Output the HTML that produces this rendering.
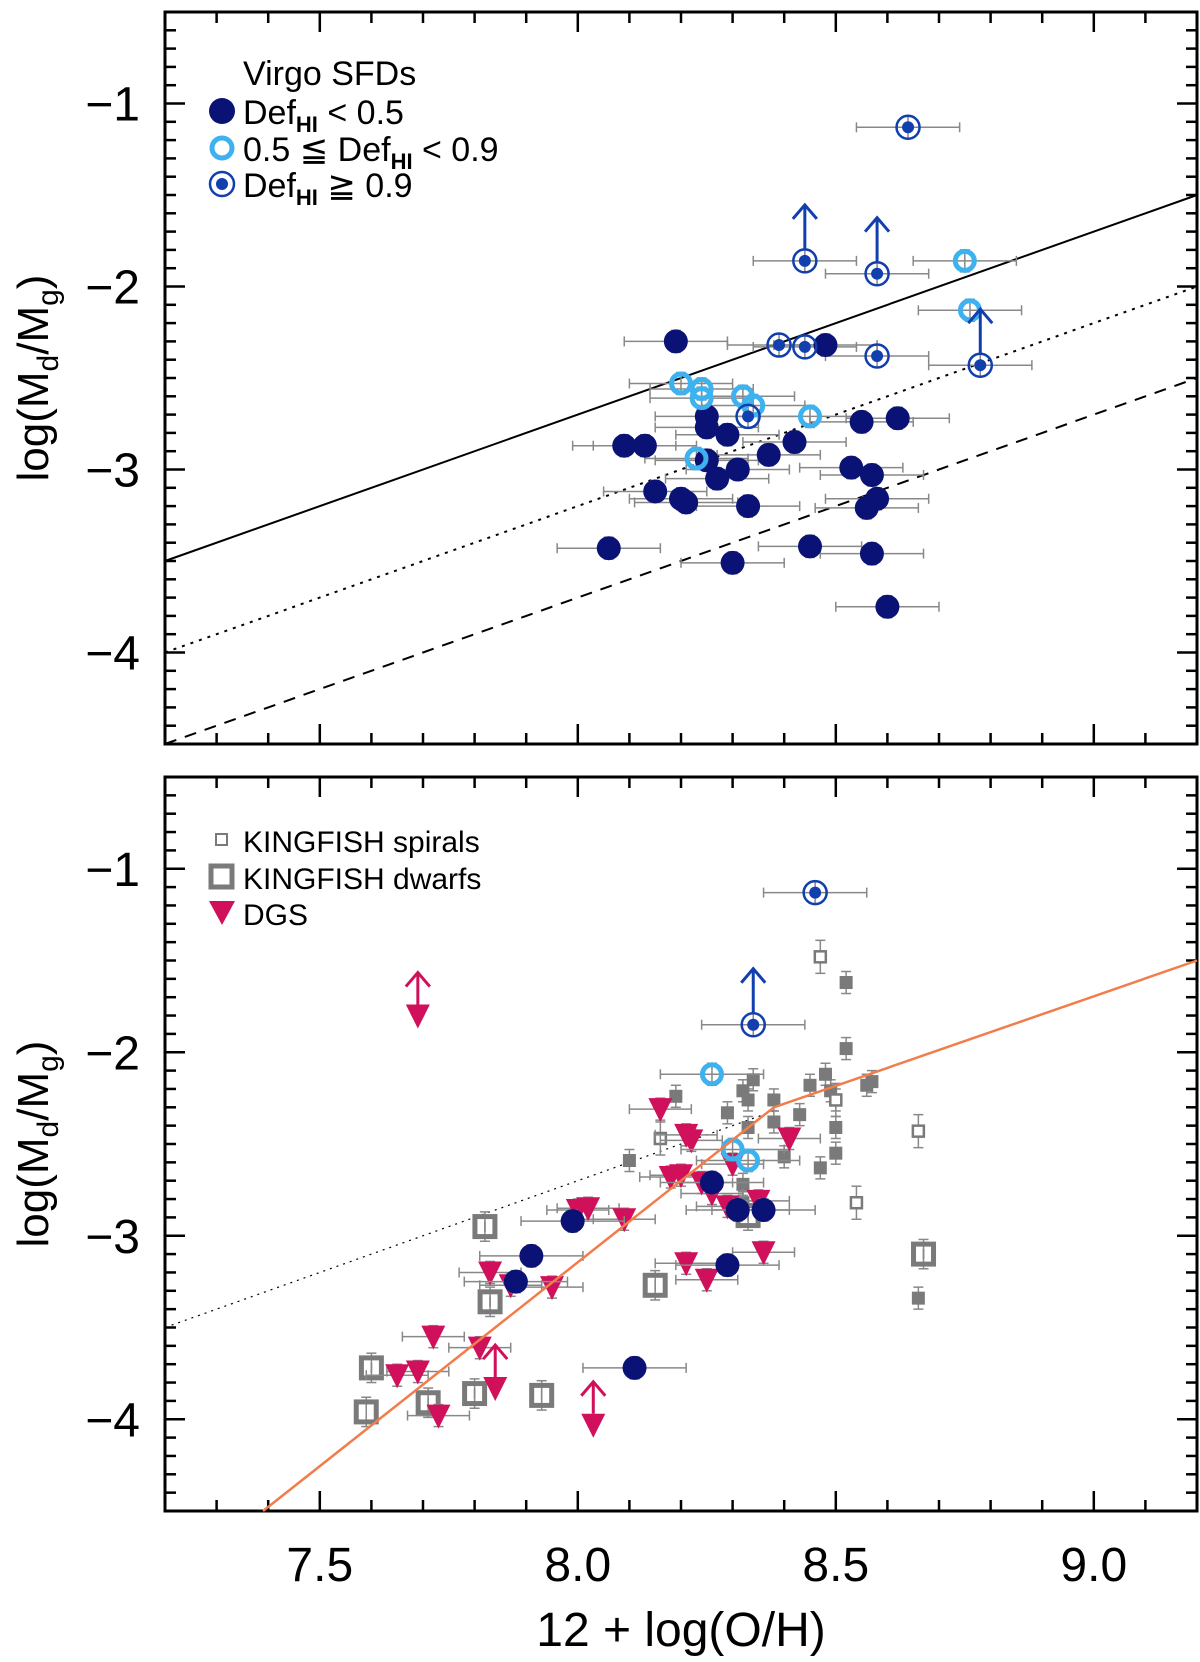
<!DOCTYPE html>
<html><head><meta charset="utf-8"><title>Dust-to-gas vs metallicity</title>
<style>
html,body{margin:0;padding:0;background:#fff;}
svg{display:block;font-family:"Liberation Sans",sans-serif;}
</style></head>
<body>
<svg id="fig" width="1200" height="1662" viewBox="0 0 1200 1662" xmlns="http://www.w3.org/2000/svg">
<g id="top"></g>
<g id="bot"></g>
</svg>
<script>
// ---- data (top panel: Virgo SFDs) ----
const navyX = [8.19,8.09,8.13,8.25,8.25,8.29,8.31,8.37,8.42,8.48,8.25,8.27,8.15,8.20,8.21,8.06,8.30,8.33,8.45,8.53,8.55,8.62,8.57,8.58,8.56,8.57,8.60];
const navyY = [-2.30,-2.87,-2.87,-2.71,-2.77,-2.81,-3.00,-2.92,-2.85,-2.32,-2.95,-3.05,-3.12,-3.16,-3.18,-3.43,-3.51,-3.20,-3.42,-2.99,-2.74,-2.72,-3.03,-3.16,-3.21,-3.46,-3.75];
const lightX = [8.20,8.24,8.24,8.32,8.34,8.23,8.45,8.75,8.76];
const lightY = [-2.53,-2.56,-2.61,-2.60,-2.65,-2.94,-2.71,-1.86,-2.13];
const defX = [8.64,8.44,8.58,8.78,8.39,8.44,8.58,8.33];
const defY = [-1.13,-1.86,-1.93,-2.43,-2.32,-2.33,-2.38,-2.71];
const defLimit = [0,1,1,1,0,0,0,0];
const relOffsets = [-10.7,-11.2,-11.7]; // solid, dotted, dashed: y = x + c
// ---- data (bottom panel) ----
const bNavyX = [7.99,7.91,7.88,8.11,8.29,8.26,8.31,8.36];
const bNavyY = [-2.92,-3.11,-3.25,-3.72,-3.16,-2.71,-2.86,-2.86];
const bLightX = [8.26,8.30,8.33];
const bLightY = [-2.12,-2.53,-2.59];
const bDefX = [8.46,8.34];
const bDefY = [-1.13,-1.85];
const bDefLimit = [0,1];
const dwarfX = [7.60,7.59,7.71,7.80,7.93,7.82,7.83,8.15,8.33,8.67];
const dwarfY = [-3.72,-3.96,-3.91,-3.86,-3.87,-2.95,-3.36,-3.27,-2.89,-3.10];
const spiralOpenX = [8.47,8.16,8.50,8.66,8.54];
const spiralOpenY = [-1.48,-2.47,-2.26,-2.43,-2.82];
const spiralX = [8.52,8.52,8.10,8.19,8.29,8.32,8.33,8.34,8.33,8.38,8.38,8.40,8.43,8.45,8.48,8.47,8.49,8.50,8.50,8.50,8.56,8.57,8.66,8.32,8.32];
const spiralY = [-1.62,-1.98,-2.59,-2.24,-2.33,-2.21,-2.26,-2.15,-2.41,-2.26,-2.38,-2.57,-2.34,-2.18,-2.12,-2.63,-2.21,-2.26,-2.55,-2.41,-2.18,-2.16,-3.34,-2.72,-2.82];
const dgsX = [8.16,8.21,8.18,8.20,8.22,8.24,8.26,8.30,8.29,8.35,8.41,8.36,8.02,8.00,8.09,7.83,7.95,8.21,8.25,7.72,7.81,7.65,7.69,7.73,7.87];
const dgsY = [-2.31,-2.45,-2.68,-2.67,-2.48,-2.71,-2.77,-2.61,-2.84,-2.81,-2.47,-3.09,-2.85,-2.86,-2.91,-3.20,-3.28,-3.15,-3.24,-3.55,-3.61,-3.76,-3.74,-3.98,-3.27];
const dgsLimX = [7.69,7.84,8.03];
const dgsLimY = [-1.80,-3.83,-4.03];
const fitX = [7.39,8.38,9.2];
const fitY = [-4.5,-2.3,-1.5];
const refLineX = [7.2,8.38];
const xTicks = [7.5,8.0,8.5,9.0];
const xTickLabels = ["7.5","8.0","8.5","9.0"];
const yTicks = [-1,-2,-3,-4];
const yTickLabels = ["\u22121","\u22122","\u22123","\u22124"];

const NS = "http://www.w3.org/2000/svg";
const L = 165, R = 1197, X0 = 7.2, X1 = 9.2;
const sx = v => L + (v - X0) / (X1 - X0) * (R - L);
const NAVY = "#0b1275", LB = "#3db2ef", DB = "#123fae", GR = "#7a7a7a", CR = "#d0105a", OR = "#f27d4b";

function mk(parent, tag, attrs, name, inter) {
  const el = document.createElementNS(NS, tag);
  for (const k in attrs) el.setAttribute(k, attrs[k]);
  
  
  parent.appendChild(el);
  return el;
}

function panel(g, T, B, showX) {
  const sy = v => T + (-0.5 - v) / 4 * (B - T);
  mk(g, 'rect', {x:L, y:T, width:R-L, height:B-T, fill:'none', stroke:'#000', 'stroke-width':3}, 'plot-frame', false);
  for (let i = 0; i <= 20; i++) {
    const v = X0 + i * 0.1, x = sx(v);
    const major = Math.abs((v * 2) - Math.round(v * 2)) < 1e-6;
    const len = major ? 20 : 11;
    mk(g, 'line', {x1:x, y1:B, x2:x, y2:B-len, stroke:'#000', 'stroke-width':2.5}, 'x-tick', false);
    mk(g, 'line', {x1:x, y1:T, x2:x, y2:T+len, stroke:'#000', 'stroke-width':2.5}, 'x-tick-top', false);
  }
  for (let i = 0; i <= 40; i++) {
    const v = -4.5 + i * 0.1, y = sy(v);
    const major = Math.abs(v - Math.round(v)) < 1e-6;
    const len = major ? 20 : 11;
    mk(g, 'line', {x1:L, y1:y, x2:L+len, y2:y, stroke:'#000', 'stroke-width':2.5}, 'y-tick', false);
    mk(g, 'line', {x1:R, y1:y, x2:R-len, y2:y, stroke:'#000', 'stroke-width':2.5}, 'y-tick-right', false);
  }
  yTicks.forEach((v, i) => {
    const t = mk(g, 'text', {x:140, y:sy(v)+17, 'font-size':48, 'text-anchor':'end'}, 'y-tick-label', false);
    t.textContent = yTickLabels[i];
  });
  if (showX) xTicks.forEach((v, i) => {
    const t = mk(g, 'text', {x:sx(v), y:1581, 'font-size':48, 'text-anchor':'middle'}, 'x-tick-label', false);
    t.textContent = xTickLabels[i];
  });
  const yc = (T + B) / 2;
  const yl = mk(g, 'text', {x:0, y:0, 'font-size':44, 'text-anchor':'middle', transform:`translate(48,${yc}) rotate(-90)`}, 'y-axis-title', false);
  yl.innerHTML = 'log(M<tspan font-size="30" dy="10">d</tspan><tspan dy="-10">/M</tspan><tspan font-size="30" dy="10">g</tspan><tspan dy="-10">)</tspan>';
  return sy;
}

function errbar(g, x, y, sy, xe, ye) {
  const px = sx(x), py = sy(y);
  mk(g, 'line', {x1:sx(x-xe), y1:py, x2:sx(x+xe), y2:py, stroke:'#888', 'stroke-width':1.5}, 'x-error-bar', false);
  mk(g, 'line', {x1:px, y1:sy(y-ye), x2:px, y2:sy(y+ye), stroke:'#888', 'stroke-width':1.5}, 'y-error-bar', false);
  [[sx(x-xe),py,0],[sx(x+xe),py,0],[px,sy(y-ye),1],[px,sy(y+ye),1]].forEach(c => {
    if (c[2]) mk(g,'line',{x1:c[0]-5,y1:c[1],x2:c[0]+5,y2:c[1],stroke:'#888','stroke-width':1.5},'error-cap',false);
    else mk(g,'line',{x1:c[0],y1:c[1]-5,x2:c[0],y2:c[1]+5,stroke:'#888','stroke-width':1.5},'error-cap',false);
  });
}
function upArrow(g, px, py, col, len) {
  mk(g,'line',{x1:px,y1:py,x2:px,y2:py-len,stroke:col,'stroke-width':3},'limit-arrow',false);
  mk(g,'polyline',{points:`${px-12},${py-len+14} ${px},${py-len} ${px+12},${py-len+14}`,fill:'none',stroke:col,'stroke-width':3},'limit-arrow-head',false);
}
function virgo(g, sy, nx, ny, lx, ly, dx, dy, dl) {
  nx.forEach((x,i)=>errbar(g,x,ny[i],sy,0.1,0.06));
  lx.forEach((x,i)=>errbar(g,x,ly[i],sy,0.1,0.06));
  dx.forEach((x,i)=>errbar(g,x,dy[i],sy,0.1,0.06));
  nx.forEach((x,i)=>mk(g,'circle',{cx:sx(x),cy:sy(ny[i]),r:12,fill:NAVY},'virgo-low-def-point',false));
  lx.forEach((x,i)=>mk(g,'circle',{cx:sx(x),cy:sy(ly[i]),r:9.5,fill:'none',stroke:LB,'stroke-width':5},'virgo-mid-def-point',false));
  dx.forEach((x,i)=>{
    const px=sx(x), py=sy(dy[i]);
    if (dl[i]) upArrow(g,px,py-12,DB,44);
    mk(g,'circle',{cx:px,cy:py,r:11.5,fill:'none',stroke:DB,'stroke-width':2.5},'virgo-high-def-ring',false);
    mk(g,'circle',{cx:px,cy:py,r:6,fill:DB},'virgo-high-def-point',false);
  });
}

// ---- top panel ----
const gT = document.getElementById('top');
const syT = panel(gT, 12, 744, false);
const dashes = ['', '3,6', '12,9'];
const lnames = ['relation-solid-line','relation-dotted-line','relation-dashed-line'];
relOffsets.forEach((c,i)=>{
  const a = {x1:sx(X0),y1:syT(X0+c),x2:sx(X1),y2:syT(X1+c),stroke:'#000','stroke-width':2};
  if (dashes[i]) a['stroke-dasharray'] = dashes[i];
  mk(gT,'line',a,lnames[i],false);
});
virgo(gT, syT, navyX, navyY, lightX, lightY, defX, defY, defLimit);
// legend top
const lgT = mk(gT,'g',{},'legend',false);
let t = mk(lgT,'text',{x:243,y:85,'font-size':34},'legend-title',false); t.textContent='Virgo SFDs';
mk(lgT,'circle',{cx:222,cy:111,r:13,fill:NAVY},'legend-marker-low-def',false);
t = mk(lgT,'text',{x:243,y:124,'font-size':34},'legend-entry-low-def',false);
t.innerHTML='Def<tspan font-size="22" font-weight="bold" dy="8">HI</tspan><tspan dy="-8"> &lt; 0.5</tspan>';
mk(lgT,'circle',{cx:222,cy:148,r:10,fill:'none',stroke:LB,'stroke-width':5},'legend-marker-mid-def',false);
t = mk(lgT,'text',{x:243,y:161,'font-size':34},'legend-entry-mid-def',false);
t.innerHTML='0.5 ≦ Def<tspan font-size="22" font-weight="bold" dy="8">HI</tspan><tspan dy="-8"> &lt; 0.9</tspan>';
mk(lgT,'circle',{cx:222,cy:184,r:12,fill:'none',stroke:DB,'stroke-width':2.5},'legend-marker-high-def-ring',false);
mk(lgT,'circle',{cx:222,cy:184,r:6,fill:DB},'legend-marker-high-def',false);
t = mk(lgT,'text',{x:243,y:197,'font-size':34},'legend-entry-high-def',false);
t.innerHTML='Def<tspan font-size="22" font-weight="bold" dy="8">HI</tspan><tspan dy="-8"> ≧ 0.9</tspan>';

// ---- bottom panel ----
const gB = document.getElementById('bot');
const syB = panel(gB, 777, 1511, true);
mk(gB,'line',{x1:sx(refLineX[0]),y1:syB(refLineX[0]-10.7),x2:sx(refLineX[1]),y2:syB(refLineX[1]-10.7),stroke:'#000','stroke-width':1.2,'stroke-dasharray':'2,5'},'reference-dotted-line',false);
spiralX.forEach((x,i)=>errbar(gB,x,spiralY[i],syB,0,0.06));
spiralOpenX.forEach((x,i)=>errbar(gB,x,spiralOpenY[i],syB,0,0.09));
dwarfX.forEach((x,i)=>errbar(gB,x,dwarfY[i],syB,0,0.08));
spiralX.forEach((x,i)=>mk(gB,'rect',{x:sx(x)-6.5,y:syB(spiralY[i])-6.5,width:13,height:13,fill:GR},'kingfish-spiral-point',false));
spiralOpenX.forEach((x,i)=>mk(gB,'rect',{x:sx(x)-5.5,y:syB(spiralOpenY[i])-5.5,width:11,height:11,fill:'#fff',stroke:GR,'stroke-width':2.5},'kingfish-spiral-open-point',false));
dwarfX.forEach((x,i)=>mk(gB,'rect',{x:sx(x)-10,y:syB(dwarfY[i])-10,width:20,height:20,fill:'none',stroke:GR,'stroke-width':5},'kingfish-dwarf-point',false));
dgsX.forEach((x,i)=>errbar(gB,x,dgsY[i],syB,0.06,0.06));
dgsX.forEach((x,i)=>{
  const px=sx(x), py=syB(dgsY[i]);
  mk(gB,'polygon',{points:`${px-12},${py-11} ${px+12},${py-11} ${px},${py+13}`,fill:CR},'dgs-point',false);
});
dgsLimX.forEach((x,i)=>{
  const px=sx(x), py=syB(dgsLimY[i]);
  mk(gB,'polygon',{points:`${px-12},${py-11} ${px+12},${py-11} ${px},${py+13}`,fill:CR},'dgs-limit-point',false);
  upArrow(gB,px,py-11,CR,32);
});
virgo(gB, syB, bNavyX, bNavyY, bLightX, bLightY, bDefX, bDefY, bDefLimit);
mk(gB,'polyline',{points:fitX.map((x,i)=>`${sx(x)},${syB(fitY[i])}`).join(' '),fill:'none',stroke:OR,'stroke-width':2.5},'orange-fit-line',false);
// legend bottom
const lgB = mk(gB,'g',{},'legend',false);
mk(lgB,'rect',{x:216,y:834,width:11,height:11,fill:'#fff',stroke:GR,'stroke-width':2},'legend-marker-spirals',false);
t = mk(lgB,'text',{x:243,y:852,'font-size':30},'legend-entry-spirals',false); t.textContent='KINGFISH spirals';
mk(lgB,'rect',{x:211,y:866,width:21,height:21,fill:'none',stroke:GR,'stroke-width':5},'legend-marker-dwarfs',false);
t = mk(lgB,'text',{x:243,y:889,'font-size':30},'legend-entry-dwarfs',false); t.textContent='KINGFISH dwarfs';
mk(lgB,'polygon',{points:'209,901 235,901 222,925',fill:CR},'legend-marker-dgs',false);
t = mk(lgB,'text',{x:243,y:925,'font-size':30},'legend-entry-dgs',false); t.textContent='DGS';
// x axis title
t = mk(gB,'text',{x:681,y:1646,'font-size':48,'text-anchor':'middle'},'x-axis-title',false); t.textContent='12 + log(O/H)';
</script>
</body></html>
